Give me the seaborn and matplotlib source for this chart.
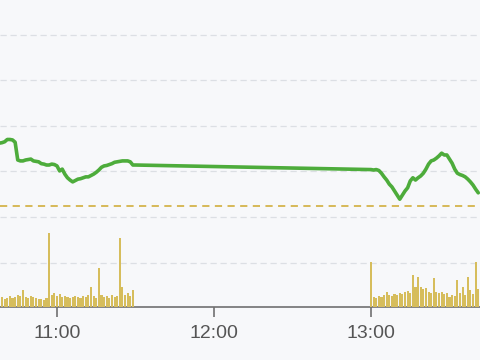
import numpy as np
import pandas as pd
import matplotlib
matplotlib.use("Agg")
import matplotlib.pyplot as plt
import seaborn as sns

# ---- data ----
morning_start = "10:38"
afternoon_start = "13:00"

price_morning = [10.162, 10.163, 10.165, 10.170, 10.170, 10.169, 10.164,
                 10.125,
                 10.123, 10.123, 10.125, 10.126, 10.127, 10.123, 10.122,
                 10.121, 10.117, 10.116, 10.114, 10.114, 10.116, 10.115,
                 10.112,
                 10.101, 10.105, 10.094, 10.086, 10.081, 10.077, 10.080,
                 10.083, 10.084, 10.086, 10.088, 10.088, 10.091, 10.094,
                 10.098, 10.103, 10.109, 10.112, 10.113, 10.115, 10.117,
                 10.120, 10.121, 10.122, 10.123, 10.123, 10.123, 10.121,
                 10.114, 10.114]

price_afternoon = [10.104, 10.103, 10.104, 10.102, 10.096, 10.088, 10.081,
                   10.072, 10.066, 10.057, 10.048, 10.039, 10.048, 10.057,
                   10.064, 10.079, 10.086, 10.081, 10.086, 10.090, 10.096,
                   10.105, 10.116, 10.123, 10.125, 10.129, 10.134, 10.140,
                   10.136, 10.136, 10.127, 10.118, 10.105, 10.096, 10.093,
                   10.091, 10.088, 10.083, 10.077, 10.070, 10.061, 10.053]

volume_morning = [900, 1000, 800, 900, 1100, 900, 1000, 1200, 1100,
                  1700,
                  1000, 900, 1100, 1000, 900, 800, 800, 700, 900,
                  7400,
                  1200, 1400, 1100, 1300, 1000, 1100, 1000, 900, 1000, 1100,
                  1000, 900, 1100, 1000, 1200,
                  2000,
                  1100, 900,
                  3900,
                  1200, 1000, 1100, 900, 1200, 1000, 1100,
                  6900,
                  2000, 1200, 1400, 1100, 1700]

volume_afternoon = [4500,
                    1000, 900, 1100, 1000, 1200,
                    1500,
                    1200, 1100, 1300, 1200, 1400, 1300,
                    1500, 1600, 1400,
                    3200, 2000, 3000,
                    2000, 1800, 1900, 1500,
                    1400, 2900,
                    1500, 1400, 1500, 1300, 1400,
                    1000, 1200, 1100,
                    2700, 1400, 2000, 1200, 3000, 1700, 1300, 4500, 1800]

prev_close = 10.024
tick_labels = ["11:00", "12:00", "13:00"]
grid_levels = [9.9, 10.0, 10.1, 10.2, 10.3, 10.4]

# ---- build table ----
def minutes_from_11(start, n):
    t = pd.date_range("2024-01-01 " + start, periods=n, freq="min")
    return ((t - pd.Timestamp("2024-01-01 11:00")).total_seconds() / 60).to_numpy()

m_am = minutes_from_11(morning_start, len(price_morning))
m_pm = minutes_from_11(afternoon_start, len(price_afternoon))
price_df = pd.DataFrame({"t": np.concatenate([m_am, m_pm]),
                         "price": price_morning + price_afternoon})
vm_am = minutes_from_11(morning_start, len(volume_morning))
vm_pm = minutes_from_11(afternoon_start, len(volume_afternoon))
vol_df = pd.DataFrame({"t": np.concatenate([vm_am, vm_pm]),
                       "vol": volume_morning + volume_afternoon})
tick_pos = [(pd.Timestamp("2024-01-01 " + s) - pd.Timestamp("2024-01-01 11:00")).total_seconds() / 60
            for s in tick_labels]

# ---- draw ----
sns.set_theme(style="white")
plt.rcParams["font.family"] = ["Liberation Sans", "DejaVu Sans"]

bg = "#f7f8fa"
fig = plt.figure(figsize=(4.8, 3.6), dpi=100, facecolor=bg)
ax = fig.add_axes([0, 53 / 360, 1, 307 / 360])
ax.set_facecolor(bg)

ax.set_xlim(-21.78, 161.66)
ax.set_ylim(9.8026, 10.4759)

for g in grid_levels:
    ax.axhline(g, color="#dcdfe4", lw=0.9, ls=(0, (5, 3)), zorder=0)

ax2 = ax.twinx()
ax2.set_ylim(0, 30700)
sns.histplot(data=vol_df, x="t", weights="vol", discrete=True, shrink=0.8,
             color="#d6bd5c", edgecolor="none", alpha=1.0, ax=ax2, zorder=1)
ax2.set_xlim(-21.78, 161.66)
ax2.set_yticks([])
ax2.set_ylabel("")
ax2.set_xlabel("")

ax3 = ax.twinx()
ax3.set_ylim(9.8026, 10.4759)
ax3.axhline(prev_close, color="#d4b44c", lw=1.3, ls=(0, (4, 3)), zorder=2)
sns.lineplot(data=price_df, x="t", y="price", color="#4dac3b", lw=2.6,
             ax=ax3, zorder=3)
ax3.set_xlim(-21.78, 161.66)
ax3.set_yticks([])
ax3.set_ylabel("")
ax3.set_xlabel("")

for a in (ax, ax2, ax3):
    for s in ("top", "left", "right", "bottom"):
        a.spines[s].set_visible(False)
ax.spines["bottom"].set_visible(True)
ax.spines["bottom"].set_color("#707070")
ax.spines["bottom"].set_linewidth(1.2)

ax.set_yticks([])
ax.set_xticks(tick_pos)
ax.set_xticklabels(tick_labels)
ax.tick_params(axis="x", length=7, width=1.2, color="#707070", pad=6,
               labelsize=14, labelcolor="#555555", bottom=True)

fig.savefig("out.png", dpi=100, facecolor=bg)
